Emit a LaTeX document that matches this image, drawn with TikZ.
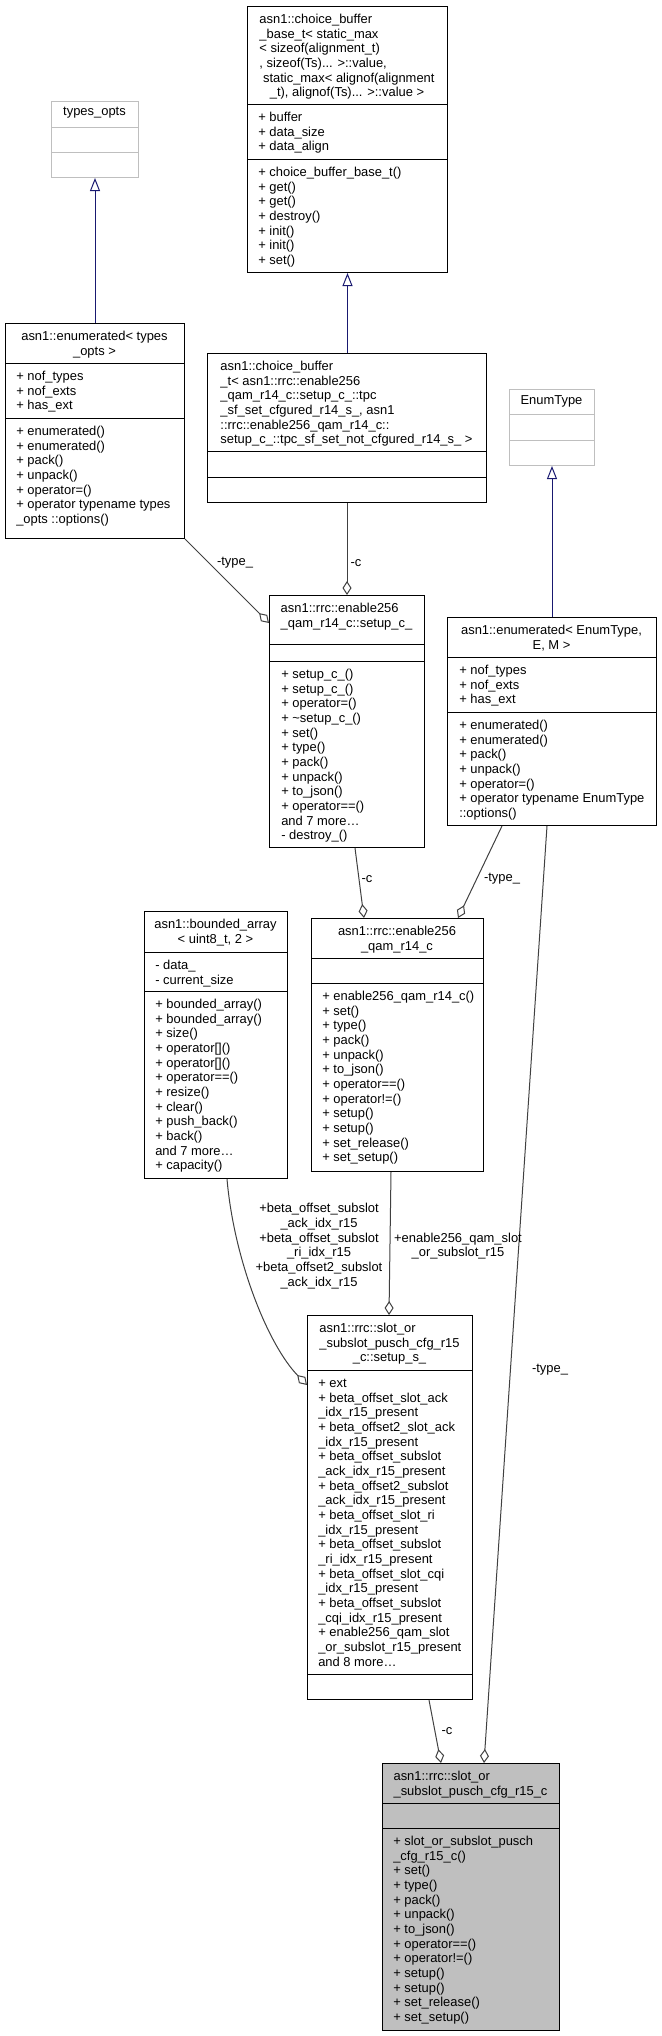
\documentclass[tikz,border=0pt]{standalone}
\usepackage{fontspec}
\setmainfont{Liberation Sans}
\usetikzlibrary{arrows.meta}

\definecolor{edgegrey}{HTML}{404040}
\definecolor{inhblue}{HTML}{191970}
\definecolor{boxgrey}{HTML}{BFBFBF}

\newcommand{\lrows}[1]{\begin{tabular}{@{}l@{}}#1\end{tabular}}
\newcommand{\ctr}[1]{\multicolumn{1}{@{}c@{}}{#1}}
\newcommand{\splitline}[3][black]{\draw[#1, line width=0.75pt] (#2.west |- 0,#3) -- (#2.east |- 0,#3);}

\begin{document}
\catcode`\_=12
\begin{tikzpicture}[x=0.75pt, y=-0.75pt,
    font=\fontsize{9.7}{11}\selectfont,
    cls/.style={draw, line width=0.75pt, inner sep=0pt, anchor=north west},
    ghost/.style={cls, draw=boxgrey},
    px/.style 2 args={minimum width=#1*0.75pt, minimum height=#2*0.75pt},
    ttl/.style={inner sep=0pt, anchor=north},
    mem/.style={inner sep=0pt, anchor=north west},
    lbl/.style={inner sep=0pt},
    agg/.style={draw=edgegrey, line width=0.75pt, -{Diamond[open, length=10.5pt, width=6.75pt]}},
    inh/.style={draw=inhblue, line width=0.75pt, -{Triangle[open, length=9.75pt, width=7.5pt]}}]
    \useasboundingbox (0,0) rectangle (661,2036);

    % boxes
    \node[cls, px={200}{266}] (bcb) at (247,6) {};
    \splitline{bcb}{104} \splitline{bcb}{159}
    \node[ttl] (bcb-t) at (347,13) {\lrows{asn1::choice_buffer\\_base_t< static_max\\< sizeof(alignment_t)\\, sizeof(Ts)... >::value,\\\ static_max< alignof(alignment\\\ctr{_t), alignof(Ts)... >::value >}}};
    \node[mem] (bcb-a) at (258,111) {\lrows{+ buffer\\+ data_size\\+ data_align}};
    \node[mem] (bcb-m) at (258,166) {\lrows{+ choice_buffer_base_t()\\+ get()\\+ get()\\+ destroy()\\+ init()\\+ init()\\+ set()}};

    \node[ghost, px={87}{76}] (topts) at (51,101) {};
    \splitline[boxgrey]{topts}{127} \splitline[boxgrey]{topts}{152}
    \node[ttl] (topts-t) at (94.5,107) {types_opts};

    \node[cls, px={179}{215}] (enumt) at (5,323) {};
    \splitline{enumt}{363} \splitline{enumt}{418}
    \node[ttl] (enumt-t) at (94.5,330) {\lrows{asn1::enumerated< types\\\ctr{_opts >}}};
    \node[mem] (enumt-a) at (16,370) {\lrows{+ nof_types\\+ nof_exts\\+ has_ext}};
    \node[mem] (enumt-m) at (16,425) {\lrows{+ enumerated()\\+ enumerated()\\+ pack()\\+ unpack()\\+ operator=()\\+ operator typename types\\_opts ::options()}};

    \node[cls, px={279}{149}] (cbt) at (207,353) {};
    \splitline{cbt}{451} \splitline{cbt}{477}
    \node[ttl] (cbt-t) at (346.5,360) {\lrows{asn1::choice_buffer\\_t< asn1::rrc::enable256\\_qam_r14_c::setup_c_::tpc\\_sf_set_cfgured_r14_s_, asn1\\::rrc::enable256_qam_r14_c::\\setup_c_::tpc_sf_set_not_cfgured_r14_s_ >}};

    \node[ghost, px={85}{76}] (etype) at (509,389) {};
    \splitline[boxgrey]{etype}{414} \splitline[boxgrey]{etype}{440}
    \node[ttl] (etype-t) at (551.5,395) {EnumType};

    \node[cls, px={209}{208}] (enume) at (447,617) {};
    \splitline{enume}{657} \splitline{enume}{712}
    \node[ttl] (enume-t) at (551.5,624) {\lrows{asn1::enumerated< EnumType,\\\ctr{E, M >}}};
    \node[mem] (enume-a) at (459,664) {\lrows{+ nof_types\\+ nof_exts\\+ has_ext}};
    \node[mem] (enume-m) at (459,719) {\lrows{+ enumerated()\\+ enumerated()\\+ pack()\\+ unpack()\\+ operator=()\\+ operator typename EnumType\\::options()}};

    \node[cls, px={155}{252}] (setc) at (269,595) {};
    \splitline{setc}{644} \splitline{setc}{661}
    \node[ttl] (setc-t) at (346.5,602) {\lrows{asn1::rrc::enable256\\_qam_r14_c::setup_c_}};
    \node[mem] (setc-m) at (281,668) {\lrows{+ setup_c_()\\+ setup_c_()\\+ operator=()\\+ \textasciitilde setup_c_()\\+ set()\\+ type()\\+ pack()\\+ unpack()\\+ to_json()\\+ operator==()\\and 7 more\ldots\\- destroy_()}};

    \node[cls, px={143}{267}] (barr) at (144,911) {};
    \splitline{barr}{952} \splitline{barr}{991}
    \node[ttl] (barr-t) at (215.5,918) {\lrows{asn1::bounded_array\\\ctr{< uint8_t, 2 >}}};
    \node[mem] (barr-a) at (155,959) {\lrows{- data_\\- current_size}};
    \node[mem] (barr-m) at (155,998) {\lrows{+ bounded_array()\\+ bounded_array()\\+ size()\\+ operator[]()\\+ operator[]()\\+ operator==()\\+ resize()\\+ clear()\\+ push_back()\\+ back()\\and 7 more\ldots\\+ capacity()}};

    \node[cls, px={172}{253}] (e256) at (311,918) {};
    \splitline{e256}{958} \splitline{e256}{983}
    \node[ttl] (e256-t) at (397,925) {\lrows{asn1::rrc::enable256\\\ctr{_qam_r14_c}}};
    \node[mem] (e256-m) at (322,990) {\lrows{+ enable256_qam_r14_c()\\+ set()\\+ type()\\+ pack()\\+ unpack()\\+ to_json()\\+ operator==()\\+ operator!=()\\+ setup()\\+ setup()\\+ set_release()\\+ set_setup()}};

    \node[cls, px={165}{384}] (sets) at (307,1315) {};
    \splitline{sets}{1370} \splitline{sets}{1674}
    \node[ttl] (sets-t) at (389.5,1322) {\lrows{asn1::rrc::slot_or\\_subslot_pusch_cfg_r15\\\ctr{_c::setup_s_}}};
    \node[mem] (sets-a) at (318,1377) {\lrows{+ ext\\+ beta_offset_slot_ack\\_idx_r15_present\\+ beta_offset2_slot_ack\\_idx_r15_present\\+ beta_offset_subslot\\_ack_idx_r15_present\\+ beta_offset2_subslot\\_ack_idx_r15_present\\+ beta_offset_slot_ri\\_idx_r15_present\\+ beta_offset_subslot\\_ri_idx_r15_present\\+ beta_offset_slot_cqi\\_idx_r15_present\\+ beta_offset_subslot\\_cqi_idx_r15_present\\+ enable256_qam_slot\\_or_subslot_r15_present\\and 8 more\ldots}};

    \node[cls, fill=boxgrey, px={177}{267}] (main) at (382,1763) {};
    \splitline{main}{1803} \splitline{main}{1828}
    \node[ttl] (main-t) at (470.5,1770) {\lrows{asn1::rrc::slot_or\\_subslot_pusch_cfg_r15_c}};
    \node[mem] (main-m) at (393,1835) {\lrows{+ slot_or_subslot_pusch\\_cfg_r15_c()\\+ set()\\+ type()\\+ pack()\\+ unpack()\\+ to_json()\\+ operator==()\\+ operator!=()\\+ setup()\\+ setup()\\+ set_release()\\+ set_setup()}};

    % inheritance
    \draw[inh] (enumt.north -| topts.south) -- (topts.south);
    \draw[inh] (cbt.north -| bcb.south) -- (bcb.south);
    \draw[inh] (enume.north -| etype.south) -- (etype.south);

    % usage
    \draw[agg] (enumt.south east) -- (setc.west |- 0,623);
    \draw[agg] (cbt.south) -- (setc.north -| cbt.south);
    \draw[agg] (setc.south -| 355,0) -- (e256.north -| 364,0);
    \draw[agg] (enume.south -| 502,0) -- (e256.north -| 458,0);
    \draw[agg] (barr.south -| 227,0) .. controls (234,1260) and (268,1345) .. (sets.west |- 0,1385);
    \draw[agg] (e256.south -| 391,0) -- (sets.north -| 389,0);
    \draw[agg] (sets.south -| 429,0) -- (main.north -| 441,0);
    \draw[agg] (enume.south -| 547,0) -- (main.north -| 484,0);

    % labels
    \node[lbl] (l-type1) at (235,563) {-type_};
    \node[lbl] (l-c1) at (356,563) {-c};
    \node[lbl] (l-c2) at (367,879) {-c};
    \node[lbl] (l-type2) at (502,879) {-type_};
    \node[lbl, align=center] (l-beta) at (319,1246) {+beta_offset_subslot\\_ack_idx_r15\\+beta_offset_subslot\\_ri_idx_r15\\+beta_offset2_subslot\\_ack_idx_r15};
    \node[lbl, align=center] (l-qam) at (458,1246) {+enable256_qam_slot\\_or_subslot_r15};
    \node[lbl] (l-c3) at (447,1731) {-c};
    \node[lbl] (l-type3) at (550,1370) {-type_};
\end{tikzpicture}
\end{document}
